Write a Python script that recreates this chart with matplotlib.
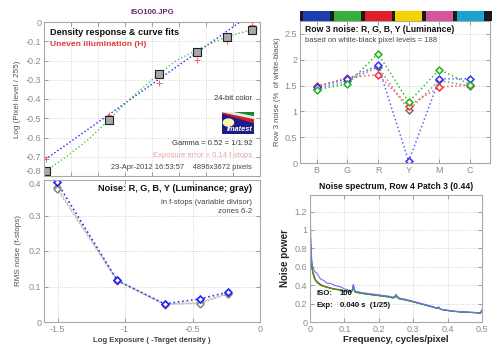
import numpy as np
import matplotlib.pyplot as plt
from matplotlib.patches import Rectangle, Polygon, Circle

plt.rcParams['font.family'] = ['Liberation Sans', 'DejaVu Sans']
plt.rcParams['font.size'] = 6.5

GRAY = '#8c8c8c'
SPINE = '#a8a8a8'

# ---- top-left: density response ----
dens_x = [-1.587, -1.119, -0.746, -0.469, -0.247, -0.057]
dens_y = [-0.775, -0.507, -0.270, -0.158, -0.080, -0.042]
uneven_y = [-0.714, -0.484, -0.317, -0.197, -0.100, -0.016]
gamma_fit_x = [-1.59, -0.148]
gamma_fit_y = [-0.714, 0.0]
poly_fit_x = [-1.587, -1.43, -1.27, -1.119, -0.93, -0.746, -0.63, -0.469, -0.247, -0.02]
poly_fit_y = [-0.774, -0.697, -0.610, -0.507, -0.378, -0.269, -0.205, -0.145, -0.076, -0.033]

# ---- bottom-left: noise in f-stops ----
zone_x = [-1.503, -1.057, -0.707, -0.447, -0.238]
noise_b = [0.393, 0.117, 0.051, 0.065, 0.084]
noise_r = [0.380, 0.116, 0.049, 0.054, 0.080]
noise_g = [0.378, 0.117, 0.050, 0.056, 0.081]
noise_y = [0.374, 0.117, 0.050, 0.052, 0.080]

# ---- top-right: row 3 noise ----
patches = ['B', 'G', 'R', 'Y', 'M', 'C']
patch_colors = ['#1c3fb0', '#37ad3c', '#e01f2a', '#f3d400', '#d8559e', '#1aa3cf']
row3_r = [1.49, 1.65, 1.71, 1.11, 1.47, 1.51]
row3_g = [1.42, 1.53, 2.12, 1.18, 1.81, 1.52]
row3_b = [1.47, 1.63, 1.89, 0.03, 1.63, 1.63]
row3_y = [1.44, 1.58, 1.86, 1.02, 1.60, 1.49]

# ---- bottom-right: noise spectrum ----
freq = [0, 0.002, 0.005, 0.008, 0.012, 0.016, 0.02, 0.03, 0.04, 0.05, 0.06, 0.07, 0.08,
        0.09, 0.1, 0.11, 0.12, 0.124, 0.126, 0.128, 0.132, 0.14, 0.15, 0.17, 0.19,
        0.21, 0.23, 0.24, 0.246, 0.25, 0.254, 0.26, 0.28, 0.3, 0.32, 0.34, 0.36,
        0.37, 0.374, 0.376, 0.38, 0.4, 0.42, 0.44, 0.46, 0.48, 0.496, 0.5]
spec_b = [1.33, 0.95, 0.68, 0.60, 0.56, 0.54, 0.53, 0.47, 0.45, 0.42, 0.42, 0.40, 0.39,
          0.38, 0.36, 0.35, 0.34, 0.36, 0.41, 0.37, 0.33, 0.33, 0.32, 0.31, 0.30,
          0.29, 0.28, 0.27, 0.28, 0.30, 0.28, 0.26, 0.245, 0.225, 0.205, 0.185, 0.165,
          0.15, 0.165, 0.155, 0.14, 0.128, 0.118, 0.112, 0.108, 0.104, 0.10, 0.135]
spec_r = [1.03, 0.85, 0.62, 0.55, 0.50, 0.46, 0.44, 0.41, 0.39, 0.38, 0.37, 0.36, 0.355,
          0.35, 0.34, 0.335, 0.33, 0.35, 0.40, 0.36, 0.325, 0.32, 0.315, 0.30, 0.295,
          0.285, 0.275, 0.265, 0.27, 0.29, 0.27, 0.255, 0.24, 0.22, 0.20, 0.18, 0.16,
          0.148, 0.16, 0.15, 0.138, 0.126, 0.116, 0.11, 0.106, 0.102, 0.098, 0.13]
spec_g = [0.95, 0.80, 0.60, 0.53, 0.48, 0.45, 0.43, 0.40, 0.385, 0.375, 0.365, 0.355, 0.35,
          0.345, 0.335, 0.33, 0.325, 0.345, 0.39, 0.355, 0.32, 0.318, 0.31, 0.30, 0.29,
          0.28, 0.27, 0.26, 0.265, 0.285, 0.265, 0.25, 0.236, 0.218, 0.198, 0.178, 0.158,
          0.146, 0.158, 0.148, 0.136, 0.124, 0.114, 0.108, 0.104, 0.10, 0.096, 0.125]
spec_k = [1.00, 0.82, 0.61, 0.54, 0.49, 0.455, 0.435, 0.405, 0.39, 0.378, 0.368, 0.358, 0.352,
          0.347, 0.337, 0.332, 0.327, 0.347, 0.395, 0.357, 0.322, 0.319, 0.312, 0.30, 0.292,
          0.282, 0.272, 0.262, 0.267, 0.287, 0.267, 0.252, 0.238, 0.22, 0.2, 0.18, 0.16,
          0.147, 0.16, 0.149, 0.137, 0.125, 0.115, 0.109, 0.105, 0.101, 0.097, 0.128]


def style_axes(ax):
    for s in ax.spines.values():
        s.set_color(SPINE)
        s.set_linewidth(0.8)
    ax.tick_params(colors=GRAY, labelcolor=GRAY, labelsize=6.5, length=3, pad=2,
                   direction='in', width=0.6, top=True, right=True)
    ax.grid(True, linestyle=':', color='#c8c8c8', linewidth=0.6)


fig = plt.figure(figsize=(5.0, 3.53), dpi=100)
W, H = 500.0, 353.0


def box(x0, y0, x1, y1):
    return [x0 / W, 1 - y1 / H, (x1 - x0) / W, (y1 - y0) / H]


# ---- top-left ----
ax1 = fig.add_axes(box(44, 22, 260, 176))
style_axes(ax1)
ax1.plot(gamma_fit_x, gamma_fit_y, ':', color='#2020ff', lw=1.0)
ax1.plot(poly_fit_x, poly_fit_y, ':', color='#40d040', lw=1.0)
ax1.plot(dens_x, uneven_y, '+', color='#ff6060', ms=4, mew=0.7)
ax1.plot(dens_x, dens_y, 's', mfc='#a8a8a8', mec='#202020', ms=5.5, mew=0.8)
ax1.set_xlim(-1.6, 0)
ax1.set_ylim(-0.8, 0)
ax1.set_xticks(np.arange(-1.6, 0.01, 0.2))
ax1.set_xticklabels([])
ax1.set_yticks(np.arange(-0.8, 0.01, 0.1))
ax1.set_yticklabels(['-0.8', '-0.7', '-0.6', '-0.5', '-0.4', '-0.3', '-0.2', '-0.1', '0'])
ax1.get_yticklabels()[0].set_va('bottom')
ax1.set_ylabel('Log (Pixel level / 255)', fontsize=5.8, color='#505050', labelpad=3)
ax1.text(0.028, 0.935, 'Density response & curve fits', transform=ax1.transAxes,
         fontsize=6.6, fontweight='bold', color='#111111', va='center')
ax1.text(0.028, 0.857, 'Uneven illumination (H)', transform=ax1.transAxes,
         fontsize=6.1, fontweight='bold', color='#e03a3a', va='center')
ax1.text(0.963, 0.50, '24-bit color', transform=ax1.transAxes, fontsize=5.5,
         color='#333333', ha='right', va='center')
ax1.text(0.963, 0.208, 'Gamma = 0.52 = 1/1.92', transform=ax1.transAxes, fontsize=5.5,
         color='#333333', ha='right', va='center')
ax1.text(0.963, 0.13, 'Exposure error = 0.14 f-stops', transform=ax1.transAxes,
         fontsize=5.5, color='#f0a0a0', ha='right', va='center')
ax1.text(0.963, 0.052, '23-Apr-2012 16:53:57    4896x3672 pixels', transform=ax1.transAxes,
         fontsize=5.4, color='#444444', ha='right', va='center')

# imatest logo
lg = fig.add_axes(box(222, 112, 254, 134))
lg.set_xlim(0, 1)
lg.set_ylim(0, 1)
lg.axis('off')
lg.add_patch(Rectangle((0, 0), 1, 1, color='#1d1d8a'))
lg.add_patch(Polygon([[0.25, 1], [1, 1], [1, 0.78]], color='#128a2a'))
lg.add_patch(Polygon([[0, 1], [0.25, 1], [1, 0.78], [1, 0.64]], color='#e8e8e8'))
lg.add_patch(Polygon([[0, 0.95], [1, 0.64], [1, 0.52]], color='#d02020'))
lg.add_patch(Circle((0.2, 0.52), 0.16, color='#fff4b0'))
lg.text(0.97, 0.04, 'Imatest', fontsize=5.3, fontstyle='italic', fontweight='bold',
        color='white', ha='right', va='bottom')

# ---- bottom-left ----
ax2 = fig.add_axes(box(44, 180, 260, 322))
style_axes(ax2)
ax2.plot(zone_x, noise_r, ':', color='#ffa0a0', lw=1.0)
ax2.plot(zone_x, noise_g, ':', color='#a0e8a0', lw=1.0)
ax2.plot(zone_x, noise_y, ':', color='#b0b0b0', lw=1.0)
ax2.plot(zone_x, noise_b, ':', color='#3030ff', lw=1.2)
ax2.plot(zone_x, noise_r, 'D', mfc='white', mec='#ff6060', ms=3.5, mew=1.0)
ax2.plot(zone_x, noise_g, 'D', mfc='white', mec='#60c060', ms=3.5, mew=1.0)
ax2.plot(zone_x, noise_y, 'D', mfc='white', mec='#808080', ms=3.5, mew=1.0)
ax2.plot(zone_x, noise_b, 'D', mfc='white', mec='#2020ff', ms=3.5, mew=1.2)
ax2.set_xlim(-1.6, 0)
ax2.set_ylim(0, 0.4)
ax2.set_xticks([-1.5, -1, -0.5, 0])
ax2.set_xticklabels(['-1.5', '-1', '-0.5', '0'])
ax2.set_yticks([0, 0.1, 0.2, 0.3, 0.4])
ax2.set_yticklabels(['0', '0.1', '0.2', '0.3', '0.4'])
ax2.get_yticklabels()[-1].set_va('top')
ax2.set_xlabel('Log Exposure ( -Target density )', fontsize=5.6, fontweight='bold',
               color='#444444', labelpad=2)
ax2.set_ylabel('RMS noise (f-stops)', fontsize=5.8, color='#505050', labelpad=5)
ax2.text(0.963, 0.937, 'Noise: R, G, B, Y (Luminance; gray)', transform=ax2.transAxes,
         fontsize=6.6, fontweight='bold', color='#111111', ha='right', va='center')
ax2.text(0.963, 0.84, 'in f-stops (variable divisor)', transform=ax2.transAxes,
         fontsize=5.6, color='#444444', ha='right', va='center')
ax2.text(0.963, 0.777, 'zones 6-2', transform=ax2.transAxes,
         fontsize=5.6, color='#444444', ha='right', va='center')

# ---- top-right ----
ax3 = fig.add_axes(box(300, 21, 490, 163))
style_axes(ax3)
xs = np.arange(1, len(patches) + 1)
for vals, lc, mc in [(row3_y, '#909090', '#707070'), (row3_r, '#ff6060', '#ff3030'),
                     (row3_b, '#6060ff', '#3030ff'), (row3_g, '#30c030', '#20b020')]:
    ax3.plot(xs, vals, ':', color=lc, lw=1.1)
    ax3.plot(xs, vals, 'D', mfc='white', mec=mc, ms=3.5, mew=1.1)
ax3.set_xlim(0.456, 6.65)
ax3.set_ylim(0, 2.75)
ax3.set_xticks(xs)
ax3.set_xticklabels(patches)
ax3.set_yticks([0, 0.5, 1, 1.5, 2, 2.5])
ax3.set_yticklabels(['0', '0.5', '1', '1.5', '2', '2.5'])
ax3.set_ylabel('Row 3 noise (%  of white-black)', fontsize=5.6, color='#505050', labelpad=3)
ax3.text(0.026, 0.94, 'Row 3 noise: R, G, B, Y (Luminance)', transform=ax3.transAxes,
         fontsize=6.2, fontweight='bold', color='#111111', va='center')
ax3.text(0.026, 0.861, 'based on white-black pixel levels = 188', transform=ax3.transAxes,
         fontsize=5.4, color='#444444', va='center')

# colour strip above
cb = fig.add_axes(box(300, 11, 492, 21))
cb.set_facecolor('#1a1a1a')
cb.bar(xs, [1] * len(xs), width=0.88, color=patch_colors)
cb.set_xlim(0.456, 6.71)
cb.set_ylim(0, 1)
cb.set_xticks([])
cb.set_yticks([])
for s in cb.spines.values():
    s.set_visible(False)

# ---- bottom-right ----
ax4 = fig.add_axes(box(310, 195, 482, 322))
style_axes(ax4)
ax4.plot(freq, spec_k, '-', color='#404040', lw=0.7)
ax4.plot(freq, spec_r, '-', color='#e02020', lw=0.8)
ax4.plot(freq, spec_g, '-', color='#20b020', lw=0.8)
ax4.plot(freq, spec_b, '-', color='#7070ff', lw=0.8)
ax4.set_xlim(0, 0.5)
ax4.set_ylim(0, 1.38)
ax4.set_xticks([0, 0.1, 0.2, 0.3, 0.4, 0.5])
ax4.set_xticklabels(['0', '0.1', '0.2', '0.3', '0.4', '0.5'])
ax4.set_yticks([0, 0.2, 0.4, 0.6, 0.8, 1, 1.2])
ax4.set_yticklabels(['0', '0.2', '0.4', '0.6', '0.8', '1', '1.2'])
ax4.set_title('Noise spectrum, Row 4 Patch 3 (0.44)', fontsize=6.2, fontweight='bold',
              color='#111111', pad=4)
ax4.set_xlabel('Frequency, cycles/pixel', fontsize=6.8, fontweight='bold',
               color='#222222', labelpad=1)
ax4.set_ylabel('Noise power', fontsize=7, fontweight='bold', color='#222222', labelpad=3)
ax4.text(0.035, 0.228, 'ISO:', transform=ax4.transAxes, fontsize=5.6, fontweight='bold',
         color='#111111', va='center')
ax4.text(0.174, 0.228, '100', transform=ax4.transAxes, fontsize=5.6, fontweight='bold',
         color='#111111', va='center')
ax4.text(0.035, 0.13, 'Exp:', transform=ax4.transAxes, fontsize=5.6, fontweight='bold',
         color='#111111', va='center')
ax4.text(0.174, 0.13, '0.040 s  (1/25)', transform=ax4.transAxes, fontsize=5.6,
         fontweight='bold', color='#111111', va='center')

fig.text(152 / W, 1 - 12 / H, 'ISO100.JPG', fontsize=5.6, fontweight='bold',
         color='#6a2378', ha='center', va='center')

fig.savefig('out.png', dpi=100)
